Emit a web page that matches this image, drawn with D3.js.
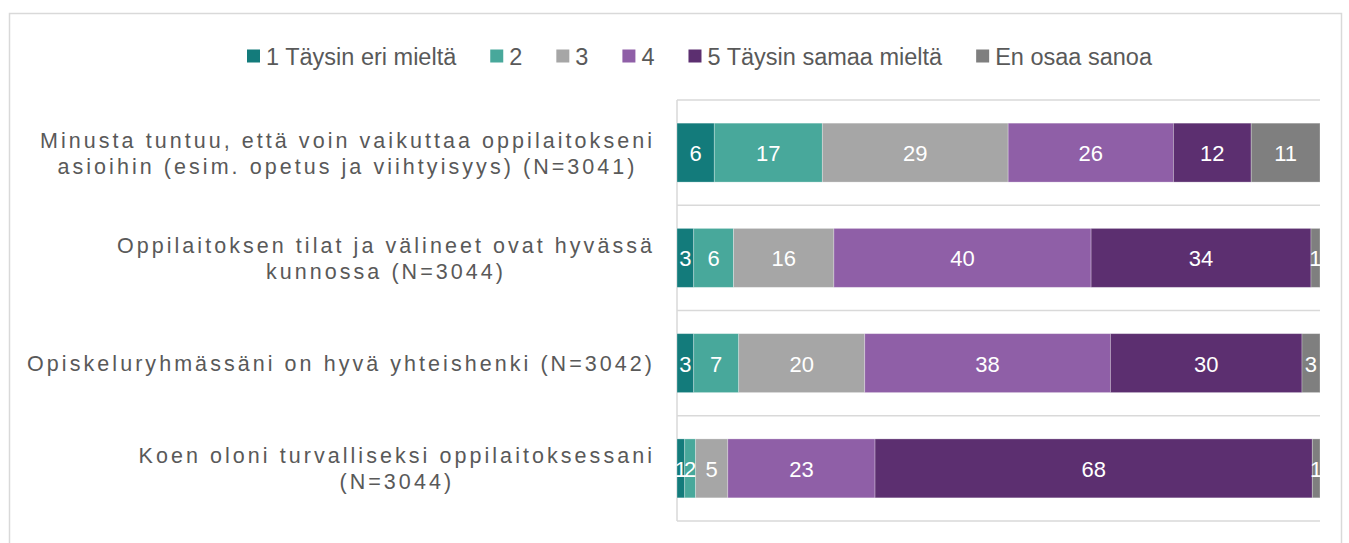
<!DOCTYPE html>
<html>
<head>
<meta charset="utf-8">
<script src="https://cdn.jsdelivr.net/npm/d3@7"></script>
<style>
  body { margin: 0; background: #fff; }
  svg { display: block; font-family: "Liberation Sans", Arial, sans-serif; }
</style>
</head>
<body>
<svg id="chart" width="1349" height="543"></svg>
<script>
// categories (each label split into its wrapped lines)
var categories = [
  ["Minusta tuntuu, että voin vaikuttaa oppilaitokseni", "asioihin (esim. opetus ja viihtyisyys) (N=3041)"],
  ["Oppilaitoksen tilat ja välineet ovat hyvässä", "kunnossa (N=3044)"],
  ["Opiskeluryhmässäni on hyvä yhteishenki (N=3042)"],
  ["Koen oloni turvalliseksi oppilaitoksessani", "(N=3044)"]
];
var seriesNames = ["1 Täysin eri mieltä", "2", "3", "4", "5 Täysin samaa mieltä", "En osaa sanoa"];
// shares in % (labels show them rounded)
var v1 = [5.8, 2.6, 2.6, 1.2];
var v2 = [16.8, 6.2, 7.0, 1.7];
var v3 = [28.9, 15.6, 19.6, 5.0];
var v4 = [25.7, 40.0, 38.2, 22.9];
var v5 = [12.1, 34.2, 29.8, 68.0];
var vEos = [10.7, 1.4, 2.8, 1.2];
var colors = ["#137b7b", "#48a89b", "#a6a6a6", "#8f5fa7", "#5c2f70", "#7f7f7f"];

var width = 1349, height = 543;
var plot = {left: 677, right: 1320, top: 100, bottom: 521};
var labelSize = 21.5, labelSpacing = 3.05;
var labelRight = 652 + labelSpacing;

var svg = d3.select("#chart");

// outer frame
svg.append("rect")
  .attr("x", 9.5).attr("y", 13.5)
  .attr("width", 1332).attr("height", 545)
  .attr("fill", "none").attr("stroke", "#d9d9d9").attr("stroke-width", 1.5);

// build table
var allVals = [v1, v2, v3, v4, v5, vEos];
var rows = categories.map(function(c, i) {
  var r = {idx: i};
  seriesNames.forEach(function(s, j) { r[s] = allVals[j][i]; });
  return r;
});
var stacked = d3.stack().keys(seriesNames).offset(d3.stackOffsetExpand)(rows);

//-----------------------------------------
// SCALES
var x = d3.scaleLinear().domain([0, 1]).range([plot.left, plot.right]);
var y = d3.scaleBand().domain(d3.range(categories.length))
  .range([plot.top, plot.bottom]).paddingInner(0.44).paddingOuter(0.22);

// gridlines (category boundaries)
var gridY = d3.range(categories.length + 1).map(function(i) { return plot.top + i * (plot.bottom - plot.top) / categories.length; });
svg.append("g").selectAll("line").data(gridY).enter().append("line")
  .attr("x1", plot.left).attr("x2", plot.right)
  .attr("y1", function(d) { return d; }).attr("y2", function(d) { return d; })
  .attr("stroke", "#d9d9d9").attr("stroke-width", 1.5);
svg.append("line")
  .attr("x1", plot.left).attr("x2", plot.left)
  .attr("y1", plot.top).attr("y2", plot.bottom)
  .attr("stroke", "#d9d9d9").attr("stroke-width", 1.5);

//-----------------------------------------
// BARS
var layers = svg.append("g").selectAll("g").data(stacked).enter().append("g")
  .attr("fill", function(d, i) { return colors[i]; });

layers.selectAll("rect").data(function(d) { return d; }).enter().append("rect")
  .attr("x", function(d) { return x(d[0]); })
  .attr("y", function(d) { return y(d.data.idx); })
  .attr("width", function(d) { return x(d[1]) - x(d[0]); })
  .attr("height", y.bandwidth())
  .attr("stroke", "#ffffff").attr("stroke-opacity", 0.35).attr("stroke-width", 0.8);

// value labels
stacked.forEach(function(layer, j) {
  svg.append("g").selectAll("text").data(layer).enter().append("text")
    .attr("x", function(d) { return (x(d[0]) + x(d[1])) / 2; })
    .attr("y", function(d) { return y(d.data.idx) + y.bandwidth() / 2 + 8.5; })
    .attr("text-anchor", "middle")
    .attr("fill", "#ffffff")
    .style("font-size", "22px")
    .text(function(d) { return Math.round(d.data[seriesNames[j]]); });
});

//-----------------------------------------
// CATEGORY LABELS
var lineH = 26;
categories.forEach(function(lines, i) {
  var cy = y(i) + y.bandwidth() / 2;
  var g = svg.append("g");
  var base = cy - (lines.length - 1) * lineH / 2 + 8;
  var first = g.append("text")
    .attr("x", labelRight).attr("y", base)
    .attr("text-anchor", "end")
    .attr("fill", "#595959")
    .style("font-size", labelSize + "px").style("letter-spacing", labelSpacing + "px")
    .text(lines[0]);
  var w1 = first.node().getComputedTextLength();
  var cx = labelRight - w1 / 2;
  lines.slice(1).forEach(function(l, k) {
    g.append("text")
      .attr("x", cx).attr("y", base + (k + 1) * lineH)
      .attr("text-anchor", "middle")
      .attr("fill", "#595959")
      .style("font-size", labelSize + "px").style("letter-spacing", labelSpacing + "px")
      .text(l);
  });
});

//-----------------------------------------
// LEGEND
var legend = svg.append("g");
var lx = 247;
seriesNames.forEach(function(s, i) {
  legend.append("rect")
    .attr("x", lx).attr("y", 49.5)
    .attr("width", 13).attr("height", 13)
    .attr("fill", colors[i]);
  var t = legend.append("text")
    .attr("x", lx + 19).attr("y", 65)
    .attr("fill", "#595959")
    .style("font-size", "23.5px")
    .text(s);
  lx += 19 + t.node().getComputedTextLength() + 34;
});
</script>
</body>
</html>
